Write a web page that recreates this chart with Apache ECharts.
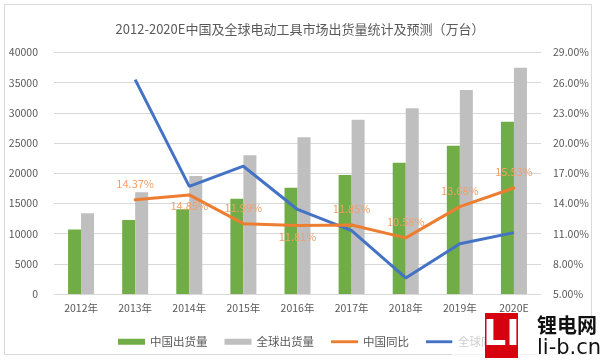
<!DOCTYPE html>
<html><head><meta charset="utf-8">
<script src="https://cdn.jsdelivr.net/npm/echarts@6/dist/echarts.min.js"></script>
<style>html,body{margin:0;padding:0;background:#fff}#c{width:600px;height:360px}</style>
</head><body><div id="c"></div>
<script>
var categories = ['2012年','2013年','2014年','2015年','2016年','2017年','2018年','2019年','2020E'];
var chinaShip = [10700, 12260, 14030, 15790, 17610, 19710, 21750, 24560, 28540];
var globalShip = [13370, 16840, 19540, 22970, 25950, 28870, 30780, 33790, 37480];
var chinaYoY = [null, 14.37, 14.85, 11.99, 11.81, 11.85, 10.58, 13.68, 15.53];
var globalYoY = [null, 26.3, 15.7, 17.7, 13.4, 11.3, 6.6, 10.0, 11.1];
var seriesNames = ['中国出货量','全球出货量','中国同比','全球同比'];
var titleText = '2012-2020E中国及全球电动工具市场出货量统计及预测（万台）';

var labelSide = [null,'top','bottom','top','bottom','top','top','top','top'];
var font = '"Noto Sans CJK SC","Noto Sans",sans-serif';
var txt = '#595959';

var chinaYoYData = chinaYoY.map(function(v, i){
  if (v === null) return null;
  var top = labelSide[i] === 'top';
  return {value: v, label: {position: labelSide[i], distance: top ? 9 : 4}};
});

var chart = echarts.init(document.getElementById('c'), null, {renderer:'canvas'});
chart.setOption({
  animation: false,
  backgroundColor: '#fff',
  title: {
    text: titleText, left: 'center', top: 18,
    textStyle: {color: txt, fontSize: 13, fontWeight: 'normal', fontFamily: font}
  },
  grid: {left: 54, right: 59, top: 52.5, bottom: 66},
  legend: {
    left: 113, top: 331, itemWidth: 27, itemHeight: 6, itemGap: 17,
    textStyle: {color: txt, fontSize: 11.5, fontFamily: font},
    data: [
      {name: seriesNames[0], icon: 'rect'},
      {name: seriesNames[1], icon: 'rect'},
      {name: seriesNames[2], icon: 'path://M0,0L28,0L28,3L0,3Z', itemStyle: {color: '#ED7D31', opacity: 1}},
      {name: seriesNames[3], icon: 'path://M0,0L28,0L28,3L0,3Z', itemStyle: {color: '#4472C4', opacity: 1}}
    ]
  },
  xAxis: {
    type: 'category', data: categories,
    axisLine: {lineStyle: {color: '#D9D9D9'}},
    axisTick: {show: false},
    axisLabel: {color: txt, fontSize: 10.5, fontFamily: font, margin: 9}
  },
  yAxis: [
    {type: 'value', min: 0, max: 40000, interval: 5000,
     axisLine: {show: false}, axisTick: {show: false},
     axisLabel: {color: txt, fontSize: 10.5, fontFamily: font, margin: 16,
       formatter: function(v){ return String(v); }},
     splitLine: {lineStyle: {color: '#D9D9D9', width: 1}}},
    {type: 'value', min: 5, max: 29, interval: 3,
     axisLine: {show: false}, axisTick: {show: false},
     axisLabel: {color: txt, fontSize: 10.5, fontFamily: font, margin: 12,
       formatter: function(v){ return v.toFixed(2) + '%'; }},
     splitLine: {show: false}}
  ],
  series: [
    {name: seriesNames[0], type: 'bar', data: chinaShip, barWidth: 13, barGap: '0%',
     itemStyle: {color: '#70AD47'}},
    {name: seriesNames[1], type: 'bar', data: globalShip, barWidth: 13, barGap: '0%',
     itemStyle: {color: '#BFBFBF'}},
    {name: seriesNames[2], type: 'line', yAxisIndex: 1, data: chinaYoYData,
     showSymbol: true, symbol: 'circle', symbolSize: 3,
     lineStyle: {color: '#ED7D31', width: 3}, itemStyle: {color: '#ED7D31'},
     label: {show: true, color: '#F0A068', fontSize: 11, fontFamily: font,
       formatter: function(p){ return Number(p.value).toFixed(2) + '%'; }},
     z: 5},
    {name: seriesNames[3], type: 'line', yAxisIndex: 1, data: globalYoY,
     showSymbol: false, symbol: 'none',
     lineStyle: {color: '#4472C4', width: 3}, itemStyle: {color: '#4472C4'},
     z: 4}
  ],
  graphic: [
    {type: 'rect', shape: {x: 4.5, y: 4.5, width: 587, height: 350},
     style: {fill: 'none', stroke: '#D9D9D9', lineWidth: 1}, z: 0, silent: true},
    {type: 'rect', shape: {x: 452, y: 322, width: 148, height: 38},
     style: {fill: 'rgba(255,255,255,0.7)'}, z: 100, silent: true},
    {type: 'rect', shape: {x: 485, y: 313, width: 33, height: 45},
     style: {fill: '#D7000F'}, z: 101, silent: true},
    {type: 'text', x: 501.5, y: 336, z: 102, silent: true,
     style: {text: 'LI', fill: '#fff', font: 'bold 36px "DejaVu Sans"', align: 'center', verticalAlign: 'middle'}},
    {type: 'text', x: 537, y: 325, z: 102, silent: true,
     style: {text: '锂电网', fill: '#111', font: 'bold 20px "Noto Sans CJK SC"', verticalAlign: 'middle'}},
    {type: 'text', x: 537, y: 349, z: 102, silent: true,
     style: {text: 'li-b.cn', fill: '#111', font: '21px "DejaVu Sans"', verticalAlign: 'middle'}}
  ]
});
</script></body></html>
